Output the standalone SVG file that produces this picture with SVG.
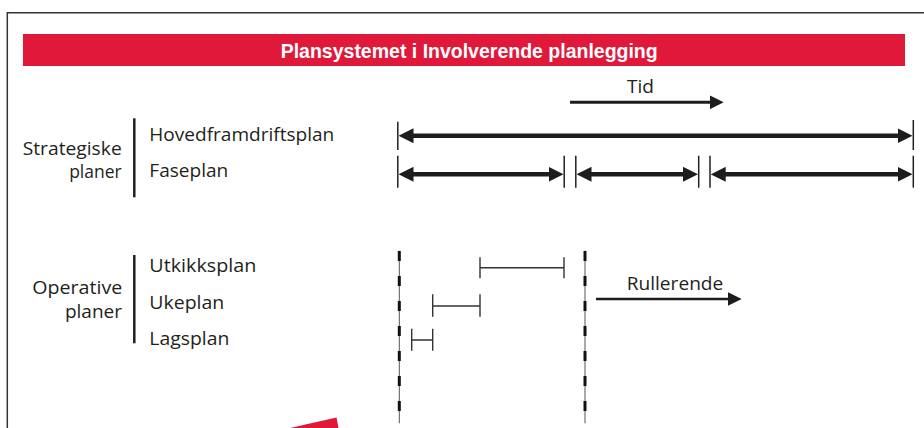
<svg xmlns="http://www.w3.org/2000/svg" width="924" height="428" viewBox="0 0 924 428">
<style>
.lbl{font-family:"Open Sans","Noto Sans","Liberation Sans",sans-serif;font-size:17.5px;fill:#231f20}
.big{font-size:19px}
.r{text-anchor:end}
.title{font-family:"Liberation Sans Narrow","Liberation Sans",sans-serif;font-weight:bold;font-size:21px;fill:#fff}
.thick{stroke:#1d1d1b;stroke-width:4.5;fill:none}
.tick{stroke:#231f20;stroke-width:1.5;fill:none}
.thin{stroke:#333;stroke-width:1.4;fill:none}
.brace{stroke:#231f20;stroke-width:2.5;fill:none}
.dl{stroke:#555;stroke-width:1;fill:none}
.dd{stroke:#111;stroke-width:3;stroke-dasharray:10 15;fill:none}
.mid{stroke:#1d1d1b;stroke-width:3;fill:none}
</style>
<defs>
<marker id="ah" markerUnits="userSpaceOnUse" viewBox="0 0 15 15" markerWidth="15" markerHeight="15" refX="5" refY="7.5" orient="auto-start-reverse">
<path d="M0,0 L15,7.5 L0,15 Z" fill="#1d1d1b"/>
</marker>
<marker id="ah2" markerUnits="userSpaceOnUse" viewBox="0 0 14 14" markerWidth="14" markerHeight="14" refX="4" refY="7" orient="auto">
<path d="M0,0 L14,7 L0,14 Z" fill="#1d1d1b"/>
</marker>
</defs>
<path d="M7.3,428 V12.7 H924" fill="none" stroke="#333" stroke-width="1.5"/>
<g id="header">
<rect x="23" y="34" width="882" height="32" fill="#e0193a"/>
<text class="title" x="280.7" y="58.3" textLength="377" lengthAdjust="spacingAndGlyphs">Plansystemet i Involverende planlegging</text>
</g>
<g id="strategiske">
<text class="lbl" x="22.7" y="155" textLength="99" lengthAdjust="spacingAndGlyphs">Strategiske</text>
<text class="lbl r" x="121.7" y="177.5">planer</text>
<line class="brace" x1="134.3" y1="118.3" x2="134.3" y2="197.3"/>
</g>
<g id="hovedframdriftsplan">
<text class="lbl" x="149.3" y="140.7" textLength="185" lengthAdjust="spacingAndGlyphs">Hovedframdriftsplan</text>
</g>
<g id="faseplan">
<text class="lbl" x="149.3" y="177" textLength="79" lengthAdjust="spacingAndGlyphs">Faseplan</text>
</g>
<g id="operative">
<text class="lbl big" x="32.3" y="294" textLength="90" lengthAdjust="spacingAndGlyphs">Operative</text>
<text class="lbl big r" x="122" y="317.5">planer</text>
<line class="brace" x1="134.3" y1="255" x2="134.3" y2="343.3"/>
</g>
<g id="utkikksplan">
<text class="lbl big" x="149.3" y="272.3" textLength="107" lengthAdjust="spacingAndGlyphs">Utkikksplan</text>
</g>
<g id="ukeplan">
<text class="lbl big" x="149.3" y="309.3" textLength="75" lengthAdjust="spacingAndGlyphs">Ukeplan</text>
</g>
<g id="lagsplan">
<text class="lbl big" x="149.3" y="345" textLength="80" lengthAdjust="spacingAndGlyphs">Lagsplan</text>
</g>
<g id="tid">
<text class="lbl" x="627" y="93" textLength="27" lengthAdjust="spacingAndGlyphs">Tid</text>
</g>
<g id="rullerende">
<text class="lbl" x="626.7" y="290" textLength="96.6" lengthAdjust="spacingAndGlyphs">Rullerende</text>
</g>
<g id="connectors">
<line class="mid" x1="570" y1="102.3" x2="713.7" y2="102.3" marker-end="url(#ah2)"/>
<line class="tick" x1="397.8" y1="121.7" x2="397.8" y2="150"/>
<line class="tick" x1="913.3" y1="120" x2="913.3" y2="150"/>
<line class="thick" x1="408.5" y1="135.7" x2="902.5" y2="135.7" marker-start="url(#ah)" marker-end="url(#ah)"/>
<line class="tick" x1="397.8" y1="155.7" x2="397.8" y2="187.7"/>
<line class="tick" x1="564.2" y1="155.7" x2="564.2" y2="187.7"/>
<line class="tick" x1="575.8" y1="155.7" x2="575.8" y2="187.7"/>
<line class="tick" x1="698.7" y1="155.7" x2="698.7" y2="187.7"/>
<line class="tick" x1="710" y1="155.7" x2="710" y2="187.7"/>
<line class="tick" x1="913.3" y1="155.7" x2="913.3" y2="187.7"/>
<line class="thick" x1="408.5" y1="174.3" x2="553.5" y2="174.3" marker-start="url(#ah)" marker-end="url(#ah)"/>
<line class="thick" x1="586.5" y1="174.3" x2="688" y2="174.3" marker-start="url(#ah)" marker-end="url(#ah)"/>
<line class="thick" x1="720.7" y1="174.3" x2="902.5" y2="174.3" marker-start="url(#ah)" marker-end="url(#ah)"/>
<line class="dl" x1="399.3" y1="250.7" x2="399.3" y2="423.3"/>
<line class="dd" x1="399.3" y1="251" x2="399.3" y2="411"/>
<line class="dl" x1="585" y1="250.7" x2="585" y2="423.3"/>
<line class="dd" x1="585" y1="251" x2="585" y2="411"/>
<path class="thin" d="M480,257.3 V278.3 M480,267.7 H564 M564,257.3 V278.3"/>
<path class="thin" d="M432.7,294.3 V316.7 M432.7,306 H480 M480,294.3 V316.7"/>
<path class="thin" d="M411.7,328.7 V350.7 M411.7,340 H432.7 M432.7,328.7 V350.7"/>
<line stroke="#1d1d1b" stroke-width="2.5" x1="596" y1="299" x2="731.7" y2="299" marker-end="url(#ah2)"/>
</g>
<polygon points="290,428 336.5,417.5 338.5,428" fill="#e0193a"/>
</svg>
